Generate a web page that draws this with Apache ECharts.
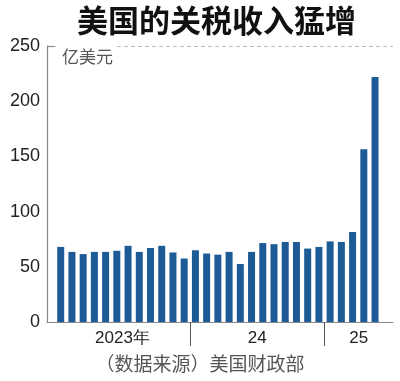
<!DOCTYPE html>
<html><head><meta charset="utf-8">
<script src="https://cdn.jsdelivr.net/npm/echarts@6/dist/echarts.min.js"></script>
<style>html,body{margin:0;padding:0;background:#fff}#c{width:400px;height:381px}</style>
</head><body><div id="c"></div>
<script>
const title = '美国的关税收入猛增';
const unit = '亿美元';
const source = '（数据来源）美国财政部';
const years = ['2023年', '24', '25'];
const v2023 = [68, 63.5, 61.5, 63.5, 63.5, 64.5, 69, 63.5, 67, 69, 63, 57.5];
const v2024 = [65, 62, 61, 63.5, 52.5, 63.5, 71.5, 70.5, 72.5, 72.5, 66.5, 68];
const v2025 = [73, 72.5, 81.5, 156.5, 222];
const yTicks = [0, 50, 100, 150, 200, 250];

const groups = [v2023, v2024, v2025];
const values = [].concat(...groups);
const xMin = -1.22, xMax = 29.6;
const bounds = []; let acc = 0;
groups.forEach((g, i) => { if (i > 0) bounds.push(acc - 0.5); acc += g.length; });
const centres = []; let s = 0;
groups.forEach((g, i) => {
  const a = s - 0.5, b = (i === groups.length - 1) ? xMax : s + g.length - 0.5;
  centres.push((a + b) / 2); s += g.length;
});
const numFont = '"Liberation Sans Narrow","Liberation Sans",sans-serif';
const cjk = '"Noto Sans CJK SC",sans-serif';
const chart = echarts.init(document.getElementById('c'), null, {renderer: 'canvas'});
chart.setOption({
  animation: false,
  backgroundColor: '#fff',
  title: {text: title, left: 72, top: 0, textStyle: {fontFamily: cjk, fontSize: 31, fontWeight: 'bold', color: '#111'}},
  grid: {left: 47, right: 7, top: 46, bottom: 59, containLabel: false},
  xAxis: {
    type: 'value', min: xMin, max: xMax,
    axisLine: {show: true, onZero: false, lineStyle: {color: '#888', width: 1.2}},
    splitLine: {show: false},
    axisTick: {show: true, customValues: bounds, length: 24, lineStyle: {color: '#555', width: 1}},
    axisLabel: {customValues: centres, formatter: (v) => years[centres.findIndex(c => Math.abs(c - v) < 1e-6)] || '',
      fontFamily: numFont, fontSize: 17, color: '#222', margin: 8}
  },
  yAxis: {
    type: 'value', min: yTicks[0], max: yTicks[yTicks.length - 1], interval: 50,
    axisLine: {show: true, onZero: false, lineStyle: {color: '#888', width: 1.2}},
    axisTick: {show: true, inside: true, customValues: [250], length: 7, lineStyle: {color: '#888', width: 1.2}},
    axisLabel: {fontFamily: numFont, fontSize: 18, color: '#222', margin: 7},
    splitLine: {show: true, lineStyle: {color: '#bbb', type: [4, 3], width: 1}}
  },
  graphic: [
    {type: 'rect', shape: {x: 56, y: 43, width: 58, height: 6}, style: {fill: '#fff'}, z: 100},
    {type: 'text', left: 62, top: 48, style: {text: unit, font: '17px "Noto Sans CJK SC"', fill: '#555'}, z: 101},
    {type: 'text', left: 'center', top: 354, style: {text: source, font: '19px "Noto Sans CJK SC"', fill: '#555'}, z: 101}
  ],
  series: [{
    type: 'bar', barWidth: 7,
    data: values.map((v, i) => [i, v]),
    itemStyle: {color: '#1d5b97'}
  }]
});
</script></body></html>
